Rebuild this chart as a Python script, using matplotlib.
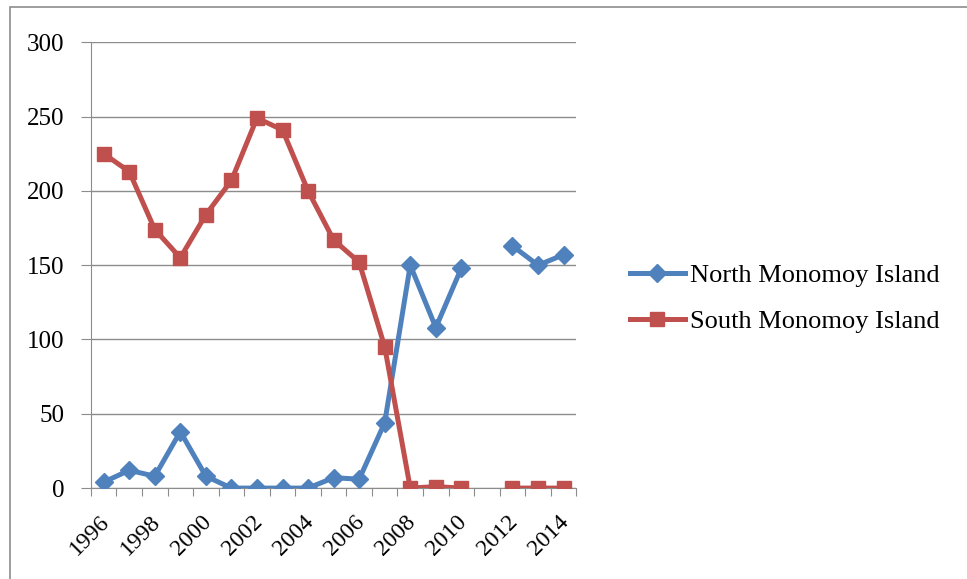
import matplotlib
matplotlib.use('agg')
import matplotlib.pyplot as plt
import matplotlib.transforms as mtransforms
import numpy as np

years = list(range(1996, 2015))
north = [4, 12, 8, 38, 8, 0, 0, 0, 0, 7, 6, 44, 150, 108, 148, None, 163, 150, 157]
south = [225, 213, 174, 155, 184, 207, 249, 241, 200, 167, 152, 95, 0, 1, 0, None, 0, 0, 0]
series_names = ['North Monomoy Island', 'South Monomoy Island']
yticks = [0, 50, 100, 150, 200, 250, 300]

plt.rcParams['font.family'] = ['Liberation Serif', 'DejaVu Serif']
grey = '#8c8c8c'

fig = plt.figure(figsize=(9.67, 5.79), dpi=100)
ax = fig.add_axes([0.094, 0.157, 0.502, 0.770])

x = np.arange(len(years))
n = np.array([np.nan if v is None else v for v in north], dtype=float)
s = np.array([np.nan if v is None else v for v in south], dtype=float)

ax.plot(x, n, color='#4F81BD', lw=3.6, marker='D', ms=9, label=series_names[0], zorder=3)
ax.plot(x, s, color='#C0504D', lw=3.6, marker='s', ms=10, label=series_names[1], zorder=4)

ax.set_xlim(-0.5, len(years) - 0.5)
ax.set_ylim(0, 300)
ax.set_yticks(yticks)
ax.yaxis.grid(True, color=grey, lw=1)
ax.set_axisbelow(True)

# category-style x axis: ticks on boundaries, labels every other year
ax.set_xticks(np.arange(-0.5, len(years)))
ax.set_xticklabels([])
ax.set_xticks(x[::2], minor=True)
ax.set_xticklabels([str(y) for y in years[::2]], minor=True, rotation=45,
                   ha='right', va='top', rotation_mode='anchor', fontsize=17)
ax.tick_params(axis='x', which='minor', length=0, pad=17)
ax.tick_params(axis='x', which='major', length=6, color=grey, direction='out')
ax.tick_params(axis='y', length=7, color=grey, labelsize=18, pad=12)
nudge = mtransforms.ScaledTranslation(-5 / 100, 0, fig.dpi_scale_trans)
for lbl in ax.get_xticklabels(minor=True):
    lbl.set_transform(lbl.get_transform() + nudge)

for side in ['top', 'right']:
    ax.spines[side].set_visible(False)
for side in ['left', 'bottom']:
    ax.spines[side].set_color(grey)

fig.legend(handles=ax.get_lines(), loc='center left', bbox_to_anchor=(0.651, 0.485),
           bbox_transform=fig.transFigure, frameon=False, fontsize=19,
           handlelength=2.1, handletextpad=0.2, labelspacing=0.85,
           borderpad=0, borderaxespad=0)

# outer chart frame
fig.patches.append(plt.Rectangle((0.0105, -0.05), 1.2, 1.038, transform=fig.transFigure,
                                 fill=False, edgecolor=grey, lw=1.2))

fig.savefig('out.png', dpi=100)
